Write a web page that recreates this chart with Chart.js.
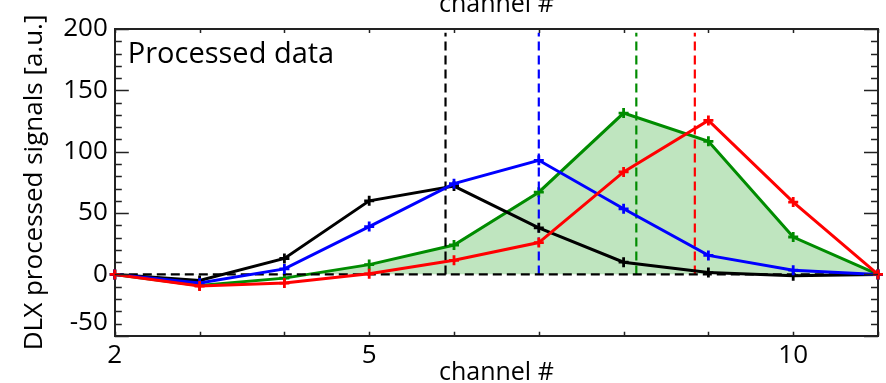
<!DOCTYPE html>
<html>
<head>
<meta charset="utf-8">
<title>DLX processed signals</title>
<script src="https://cdn.jsdelivr.net/npm/chart.js@4/dist/chart.umd.min.js"></script>
<style>
    body { margin: 0; background: #fff; }
    canvas { display: block; }
</style>
</head>
<body>
<canvas id="dlx-chart" width="886" height="383"></canvas>
<script>
// channel numbers and processed signal per channel
const channels = [2, 3, 4, 5, 6, 7, 8, 9, 10, 11];
const blackSignal = [0, -5, 13, 60, 72, 38, 10, 1.5, -1, 0];
const blueSignal = [0, -7, 4.5, 39, 74, 93, 53.5, 15.5, 3.5, 0];
const greenSignal = [0, -9, -3, 8, 24, 67, 131.5, 108.5, 30.5, 0];
const redSignal = [0, -9.5, -7, 0.5, 11.5, 26, 83.5, 125.5, 59, 0];

// centroid channel of each signal (vertical dashed markers)
const centroidChannels = [5.9, 7.0, 8.15, 8.84];
const centroidColors = ['#000000', '#0000ff', '#008c00', '#ff0000'];
const centroidTop = 197;

const xTickLabels = [2, 5, 10];
const yLabelStep = 50;

function toPoints(values) {
    return channels.map((c, i) => ({ x: c, y: values[i] }));
}

function signalDataset(values, color, order, extra) {
    return Object.assign({
        data: toPoints(values),
        borderColor: color,
        backgroundColor: color,
        borderWidth: 3,
        pointStyle: 'cross',
        pointRadius: 5,
        pointBorderWidth: 2.8,
        pointBorderColor: color,
        fill: false,
        clip: false,
        order: order
    }, extra || {});
}

function dashedDataset(points, color, order) {
    return {
        data: points,
        borderColor: color,
        borderWidth: 2.2,
        borderDash: [9, 5],
        pointRadius: 0,
        fill: false,
        order: order
    };
}

// inward tick marks on all four sides plus the panel caption
const frameTicks = {
    id: 'frameTicks',
    afterDatasetsDraw(chart) {
        const { ctx, chartArea: a, scales } = chart;
        ctx.save();
        ctx.strokeStyle = '#222';
        ctx.lineWidth = 1.5;
        ctx.beginPath();
        scales.x.ticks.forEach(t => {
            const px = Math.round(scales.x.getPixelForValue(t.value)) + 0.5;
            ctx.moveTo(px, a.bottom);
            ctx.lineTo(px, a.bottom - 4);
            ctx.moveTo(px, a.top);
            ctx.lineTo(px, a.top + 4);
        });
        scales.y.ticks.forEach(t => {
            const py = Math.round(scales.y.getPixelForValue(t.value)) + 0.5;
            const len = t.value % yLabelStep === 0 ? 14 : 7;
            ctx.moveTo(a.left, py);
            ctx.lineTo(a.left + len, py);
            ctx.moveTo(a.right, py);
            ctx.lineTo(a.right - len, py);
        });
        ctx.stroke();

        ctx.fillStyle = '#000';
        ctx.font = '29px "Open Sans"';
        ctx.textBaseline = 'alphabetic';
        ctx.fillText('Processed data', a.left + 13, a.top + 34);
        ctx.restore();
    }
};

document.addEventListener('DOMContentLoaded', function() {
    const ctx = document.getElementById('dlx-chart').getContext('2d');

    const datasets = [
        signalDataset(redSignal, '#ff0000', 0),
        signalDataset(blueSignal, '#0000ff', 1),
        signalDataset(blackSignal, '#000000', 2),
        dashedDataset([{ x: channels[0], y: 0 }, { x: channels[channels.length - 1], y: 0 }], '#000000', 3),
        signalDataset(greenSignal, '#008c00', 5, {
            fill: { target: { value: 0 }, above: 'rgba(0, 150, 0, 0.25)', below: 'rgba(0, 0, 0, 0)' }
        })
    ];
    centroidChannels.forEach((c, i) => {
        datasets.push(dashedDataset([{ x: c, y: 0 }, { x: c, y: centroidTop }], centroidColors[i], 4));
    });

    const frameBorder = { display: true, color: '#222', width: 2 };

    window.dlxChart = new Chart(ctx, {
        type: 'line',
        data: { datasets: datasets },
        options: {
            responsive: false,
            animation: false,
            devicePixelRatio: 1,
            layout: { padding: { left: 15, right: 8, top: 0, bottom: 0 } },
            plugins: {
                legend: { display: false },
                tooltip: { enabled: false }
            },
            scales: {
                x: {
                    type: 'linear',
                    position: 'bottom',
                    min: 2,
                    max: 11,
                    border: frameBorder,
                    grid: { display: false, drawTicks: false },
                    ticks: {
                        stepSize: 1,
                        autoSkip: false,
                        maxRotation: 0,
                        padding: 4,
                        color: '#000',
                        font: { family: 'Open Sans', size: 26 },
                        callback: v => xTickLabels.includes(v) ? String(v) : ''
                    },
                    title: {
                        display: true,
                        text: 'channel #',
                        color: '#000',
                        font: { family: 'Open Sans', size: 25, lineHeight: 1 },
                        padding: { top: -15, bottom: -2 }
                    }
                },
                x2: {
                    type: 'linear',
                    position: 'top',
                    min: 2,
                    max: 11,
                    border: frameBorder,
                    grid: { display: false, drawTicks: false },
                    ticks: { display: false },
                    title: {
                        display: true,
                        text: 'channel #',
                        color: '#000',
                        font: { family: 'Open Sans', size: 25, lineHeight: 1 },
                        padding: { top: -7.5, bottom: 11.5 }
                    }
                },
                y: {
                    type: 'linear',
                    position: 'left',
                    min: -50,
                    max: 200,
                    border: frameBorder,
                    grid: { display: false, drawTicks: false },
                    ticks: {
                        stepSize: 10,
                        autoSkip: false,
                        padding: 7,
                        color: '#000',
                        font: { family: 'Open Sans', size: 26, lineHeight: 1 },
                        callback: function(v) {
                            if (v % yLabelStep !== 0) return '';
                            // lowest label sits just above its tick
                            return v === this.min ? [String(v), ''] : String(v);
                        }
                    },
                    title: {
                        display: true,
                        text: 'DLX processed signals [a.u.]',
                        color: '#000',
                        font: { family: 'Open Sans', size: 26 },
                        padding: { top: 4, bottom: 6 }
                    }
                },
                y2: {
                    type: 'linear',
                    position: 'right',
                    min: -50,
                    max: 200,
                    border: frameBorder,
                    grid: { display: false, drawTicks: false },
                    ticks: { display: false }
                }
            }
        },
        plugins: [frameTicks]
    });
});
</script>
</body>
</html>
